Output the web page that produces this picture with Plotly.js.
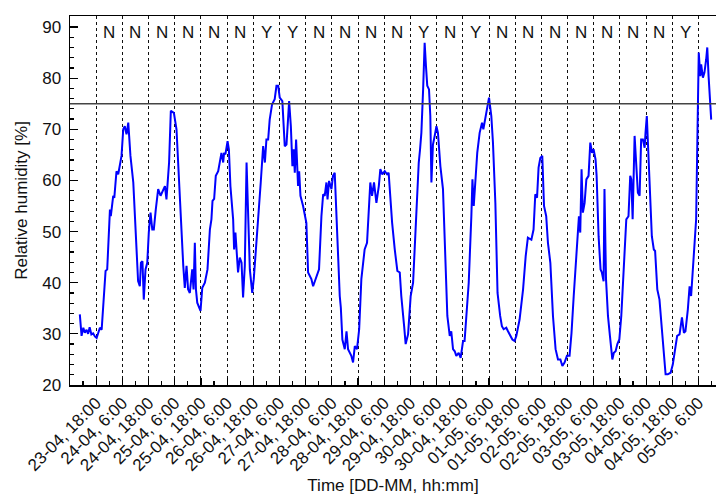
<!DOCTYPE html>
<html>
<head>
<meta charset="utf-8">
<script src="https://cdn.plot.ly/plotly-3.0.1.min.js"></script>
<style>html,body{margin:0;padding:0;background:#fff;}#chart{width:716px;height:495px;}</style>
</head>
<body>
<div id="chart"></div>
<script>
// Hours elapsed since 23-04 00:00
const hoursSince23Apr = [
10.5,11.3,12.1,12.8,13.6,14.3,15.0,15.8,16.6,17.4,18.2,19.0,19.7,20.5,21.2,22.3,23.05,24.3,24.7,25.8,
26.3,27.3,28.1,28.9,29.6,30.4,31.1,31.9,32.7,33.1,33.7,35.0,36.5,37.2,38.0,38.5,39.2,39.8,40.6,41.4,
42.1,42.9,43.7,44.4,45.3,46.4,47.5,48.7,49.5,50.2,51.4,52.2,53.6,54.8,55.9,56.3,57.1,57.9,58.6,59.4,
60.1,60.9,62.0,62.6,63.2,63.7,64.3,65.0,65.8,66.6,67.8,69.0,70.1,70.8,71.3,72.05,72.8,73.9,74.6,75.4,
76.2,76.6,77.2,78.2,78.8,79.5,80.75,81.2,81.8,82.3,83.0,83.8,84.6,85.3,86.1,86.9,87.6,88.4,89.5,90.2,
91.4,92.5,93.4,94.5,95.3,96.0,96.8,97.5,98.6,99.8,100.6,101.4,102.1,103.3,104.4,105.2,105.9,106.4,107.2,107.9,
108.5,109.0,109.6,110.1,110.5,111.0,111.6,112.8,114.3,115.1,116.6,117.4,118.9,120.1,121.2,122.0,122.7,123.5,124.0,124.7,
125.8,126.5,127.3,128.1,129.3,129.6,130.1,130.8,131.9,132.7,133.4,134.2,134.9,135.7,136.5,137.5,138.5,139.5,141.0,142.1,
143.0,143.6,144.4,145.3,146.4,147.5,148.2,149.1,150.2,151.3,152.0,152.9,153.6,154.8,156.0,157.1,157.8,159.1,159.8,160.9,
162.1,163.2,164.25,165.0,165.8,166.4,167.0,167.8,168.5,169.1,169.7,170.5,171.1,171.6,172.3,173.1,173.9,174.6,175.7,176.9,
178.0,178.9,180.0,180.7,181.5,182.3,183.0,184.1,185.0,186.1,186.8,187.6,188.7,189.9,190.4,191.0,191.7,192.6,193.7,194.8,
195.4,196.3,197.2,198.0,199.05,199.8,200.9,201.3,201.9,203.1,203.9,204.7,205.9,206.7,207.8,208.7,209.7,210.5,212.0,213.6,
214.8,215.8,217.4,218.4,219.2,220.0,220.7,221.5,222.4,223.2,224.2,225.0,226.1,227.3,228.5,229.6,230.7,231.6,232.6,233.7,
234.9,235.8,236.8,237.7,238.7,239.2,239.8,240.4,241.0,241.8,242.6,243.6,244.4,245.2,245.9,246.8,247.3,248.2,249.1,249.7,
250.5,250.9,251.6,252.5,253.4,254.5,255.2,256.0,256.8,257.7,258.6,259.8,260.9,261.9,262.7,263.2,263.8,264.7,265.4,266.2,
267.0,267.7,268.5,269.3,269.7,270.3,270.8,271.6,272.6,273.5,274.1,275.1,276.1,277.2,278.4,278.9,279.9,281.2,282.2,283.3,
284.2,285.3,286.4,287.3,288.0,289.1,289.9,290.6,291.4,292.2,292.9,293.7,294.1,294.8,295.2,296.0,296.7,297.5,298.0,298.6,
299.2,299.8
];

const relativeHumidity = [
33.8,29.6,31.2,30.2,30.8,30.0,31.3,29.9,30.1,29.5,29.2,30.2,31.2,30.8,35.4,42.3,42.6,54.3,53.0,57.0,
56.6,61.8,61.2,63.1,64.8,70.0,70.6,69.0,71.3,68.7,64.8,59.6,45.9,40.3,39.3,43.9,44.2,36.7,42.6,43.9,
49.8,53.7,50.4,50.4,54.3,58.3,57.0,58.0,58.9,56.3,63.5,73.6,73.2,70.0,60.2,55.6,50.4,43.3,39.0,43.3,
38.7,38.0,42.6,38.7,47.8,38.7,36.1,35.4,34.5,39.0,40.0,42.6,50.4,52.4,56.0,56.4,60.9,61.8,63.5,65.4,
63.5,65.4,65.1,67.7,66.1,58.9,52.4,46.5,49.8,46.5,42.0,44.9,43.9,37.1,43.3,63.5,53.0,42.6,38.0,40.7,
47.8,55.6,59.6,66.7,63.5,68.0,68.0,71.9,74.9,75.9,78.5,78.5,76.2,75.5,66.7,67.0,72.6,75.5,70.6,62.8,
66.1,61.5,68.0,60.9,58.9,61.8,57.0,55.0,51.7,42.0,40.7,39.3,41.0,42.6,53.0,57.3,57.0,59.6,56.3,59.9,
58.3,60.9,61.5,53.0,38.7,37.4,35.1,28.9,27.0,30.5,27.0,26.3,25.7,24.4,27.6,27.0,30.9,40.7,46.5,47.8,
55.6,59.6,57.0,59.6,55.6,58.9,62.2,61.2,61.8,61.2,61.5,55.6,51.7,46.5,42.3,42.0,37.4,31.5,28.0,29.9,
37.4,40.0,49.8,55.6,63.5,66.1,69.3,77.8,86.9,82.4,78.5,77.8,72.6,59.6,67.0,68.7,70.6,69.3,62.8,58.3,
46.5,33.5,29.6,30.5,27.0,26.6,25.7,26.3,25.3,28.6,28.6,33.5,40.0,53.0,60.2,55.0,59.6,65.4,69.3,71.3,
70.0,71.9,74.5,76.2,72.6,67.4,55.6,45.9,38.0,33.5,31.5,30.9,31.2,30.5,29.6,28.9,28.6,29.6,32.8,38.7,
45.2,48.8,48.4,50.4,57.3,56.6,62.5,64.4,64.8,55.0,53.0,47.8,43.9,33.5,27.0,25.0,25.0,23.7,24.4,25.7,
25.7,30.2,37.4,42.6,49.5,53.0,49.8,62.2,53.7,55.6,60.2,60.9,67.4,65.4,66.1,64.1,60.9,49.1,42.6,42.0,
40.3,58.3,40.7,33.5,29.6,25.0,26.3,26.6,28.0,28.9,33.5,43.3,52.4,53.0,60.9,60.2,52.4,68.7,62.2,57.6,
57.0,68.0,68.0,66.4,69.3,72.6,67.4,58.3,49.1,46.5,46.2,38.7,36.7,30.9,24.4,22.1,22.1,22.4,24.0,27.0,
29.6,29.9,33.2,30.2,30.5,34.8,39.3,37.4,42.6,49.8,52.4,74.5,85.0,80.4,82.7,80.1,81.1,83.7,86.0,80.4,
75.2,71.9
];

const tickHours = [18,30,42,54,66,78,90,102,114,126,138,150,162,174,186,198,210,222,234,246,258,270,282,294];
const tickLabels = [
"23-04, 18:00","24-04, 6:00","24-04, 18:00","25-04, 6:00","25-04, 18:00","26-04, 6:00",
"26-04, 18:00","27-04, 6:00","27-04, 18:00","28-04, 6:00","28-04, 18:00","29-04, 6:00",
"29-04, 18:00","30-04, 6:00","30-04, 18:00","01-05, 6:00","01-05, 18:00","02-05, 6:00",
"02-05, 18:00","03-05, 6:00","03-05, 18:00","04-05, 6:00","04-05, 18:00","05-05, 6:00"
];
// Flag for each 12-hour interval (centre hour)
const intervalCentres = [24,36,48,60,72,84,96,108,120,132,144,156,168,180,192,204,216,228,240,252,264,276,288];
const intervalFlags = ["N","N","N","N","N","N","Y","Y","N","N","N","N","Y","N","Y","N","N","N","N","N","N","N","Y"];
const thresholdHumidity = 75;

const FONT = "Liberation Sans, Arial, Helvetica, sans-serif";

const traces = [{
  x: hoursSince23Apr,
  y: relativeHumidity,
  type: "scatter",
  mode: "lines",
  line: {color: "#0000ff", width: 2},
  hoverinfo: "skip"
}];

const annotations = intervalCentres.map((h, i) => ({
  x: h, y: 89.0, xref: "x", yref: "y",
  text: intervalFlags[i], showarrow: false,
  font: {family: FONT, size: 17, color: "#111"},
  xanchor: "center", yanchor: "middle"
}));

const layout = {
  width: 716, height: 495,
  margin: {l: 70, r: 0, t: 16, b: 110},
  paper_bgcolor: "#fff", plot_bgcolor: "#fff",
  showlegend: false,
  font: {family: FONT, size: 17, color: "#111"},
  xaxis: {
    range: [6, 302],
    tickmode: "array", tickvals: tickHours, ticktext: tickLabels,
    tickangle: -45,
    ticks: "inside", ticklen: 7, tickwidth: 1.2, tickcolor: "#000",
    showgrid: true, gridcolor: "#111", gridwidth: 1, griddash: "3px,3px",
    minor: {tickmode: "linear", tick0: 0, dtick: 6, ticks: "inside", ticklen: 4, tickwidth: 1.2, tickcolor: "#000", showgrid: false},
    showline: true, linecolor: "#000", linewidth: 1.5, mirror: true,
    zeroline: false,
    tickfont: {family: FONT, size: 17, color: "#111"},
    title: {text: "Time [DD-MM, hh:mm]", font: {family: FONT, size: 17, color: "#111"}, standoff: 8}
  },
  yaxis: {
    range: [20, 92.15],
    tickmode: "linear", tick0: 20, dtick: 10,
    ticks: "inside", ticklen: 8, tickwidth: 1.2, tickcolor: "#000",
    minor: {tickmode: "linear", tick0: 20, dtick: 2, ticks: "inside", ticklen: 4, tickwidth: 1.2, tickcolor: "#000", showgrid: false},
    showgrid: false, zeroline: false,
    showline: true, linecolor: "#000", linewidth: 1.5,
    ticklabelstandoff: 4,
    tickfont: {family: FONT, size: 17, color: "#111"},
    title: {text: "Relative humidity [%]", font: {family: FONT, size: 17, color: "#111"}, standoff: 10}
  },
  shapes: [{
    type: "line", xref: "paper", x0: 0, x1: 1, yref: "y", y0: thresholdHumidity, y1: thresholdHumidity,
    line: {color: "#444", width: 1.5}
  }],
  annotations: annotations
};

Plotly.newPlot("chart", traces, layout, {displayModeBar: false, staticPlot: true});
</script>
</body>
</html>
